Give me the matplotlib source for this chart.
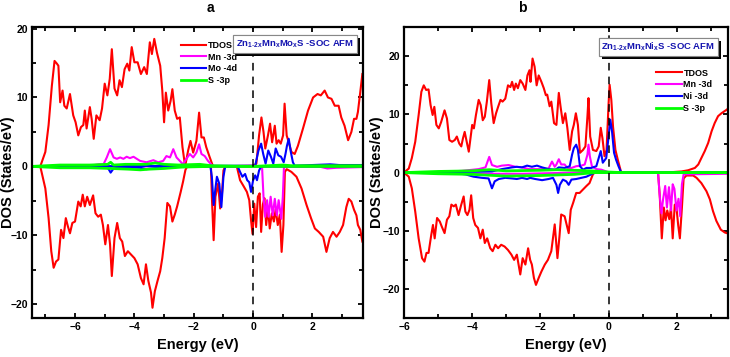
import numpy as np
import matplotlib
matplotlib.use("Agg")
import matplotlib.pyplot as plt
from matplotlib.ticker import MultipleLocator
from matplotlib import patheffects

plt.rcParams["font.family"] = ["Liberation Sans", "DejaVu Sans"]
plt.rcParams["mathtext.fontset"] = "custom"
plt.rcParams["mathtext.rm"] = "Liberation Sans"
plt.rcParams["mathtext.bf"] = "Liberation Sans:bold"

# ---- panel a : Zn(1-2x)MnxMoxS ----
a_tdos_up = [(-7.45, 0), (-7.17, 0), (-7.0, 2.1), (-6.89, 6), (-6.78, 11.7), (-6.69, 15.3), (-6.61, 14.9),
             (-6.56, 14.6), (-6.5, 9.3), (-6.42, 11), (-6.36, 8.8), (-6.28, 8.4), (-6.17, 10.5), (-6.06, 7.4),
             (-5.98, 6.4), (-5.89, 4.5), (-5.8, 5.7), (-5.72, 6), (-5.67, 8.1), (-5.61, 5.5), (-5.5, 8.6),
             (-5.44, 6.9), (-5.37, 4), (-5.28, 7.4), (-5.17, 6.7), (-5.09, 8.4), (-5.0, 12), (-4.91, 10.3),
             (-4.83, 12.7), (-4.76, 17), (-4.67, 11.3), (-4.58, 10.3), (-4.5, 12.5), (-4.42, 11.5),
             (-4.33, 14.1), (-4.24, 14.9), (-4.17, 13.9), (-4.09, 17.3), (-4.0, 15.1), (-3.89, 15.1),
             (-3.78, 13.4), (-3.67, 14.4), (-3.58, 13.4), (-3.48, 18), (-3.41, 16.3), (-3.33, 18.5),
             (-3.24, 16.5), (-3.13, 14.6), (-3.06, 11), (-3.0, 6.4), (-2.94, 10.7), (-2.86, 8.1),
             (-2.78, 9.5), (-2.72, 11.2), (-2.64, 8.1), (-2.56, 6.9), (-2.47, 7.1), (-2.38, 2.8), (-2.29, 0),
             (-2.19, 2.3), (-2.11, 3.7), (-2.02, 2), (-1.91, 3.7), (-1.82, 7.8), (-1.74, 4.2), (-1.66, 4.2),
             (-1.58, 2.8), (-1.46, 1.3), (-1.35, 0), (0.0, 0.1), (0.11, 0.4), (0.2, 4.5), (0.28, 7.1),
             (0.35, 5), (0.41, 2.6), (0.5, 4.5), (0.57, 6.2), (0.64, 3.5), (0.73, 5.9), (0.79, 3.3),
             (0.86, 3.8), (0.93, 3.3), (1.01, 4.5), (1.06, 9.1), (1.13, 4.5), (1.2, 3.5), (1.29, 2.1),
             (1.4, 1.8), (1.51, 3), (1.68, 5.5), (1.85, 8.1), (2.02, 10), (2.17, 10.5), (2.28, 10.3),
             (2.41, 11), (2.52, 10), (2.64, 9.8), (2.75, 8.8), (2.88, 8.8), (2.97, 7.1), (3.08, 5.9),
             (3.2, 3.8), (3.31, 5), (3.4, 6.9), (3.48, 6.9), (3.53, 7.9), (3.61, 10.8), (3.68, 13.4)]
a_tdos_dn = [(-7.45, 0), (-7.17, 0), (-7.0, -3.2), (-6.89, -7.5), (-6.8, -12.3), (-6.72, -14.7), (-6.64, -13.8),
             (-6.56, -13.5), (-6.47, -9.2), (-6.39, -10.4), (-6.31, -7.5), (-6.24, -8.7), (-6.17, -9.7),
             (-6.09, -8.2), (-6.0, -8.0), (-5.89, -5.1), (-5.81, -5.8), (-5.74, -4.1), (-5.67, -5.8),
             (-5.59, -4.4), (-5.5, -5.6), (-5.39, -4.2), (-5.31, -6.8), (-5.22, -7.3), (-5.13, -7.0),
             (-5.06, -8.5), (-4.98, -11.3), (-4.89, -8.5), (-4.82, -11.3), (-4.76, -15.9), (-4.67, -10.4),
             (-4.58, -8.2), (-4.49, -10.4), (-4.41, -10.9), (-4.32, -13.0), (-4.22, -12.3), (-4.11, -12.8),
             (-4.0, -13.3), (-3.89, -14.2), (-3.78, -16.2), (-3.69, -17.1), (-3.61, -14.2), (-3.53, -16.6),
             (-3.44, -18.3), (-3.39, -20.5), (-3.31, -18.1), (-3.22, -16.6), (-3.13, -15.2), (-3.06, -13.3),
             (-2.98, -10.4), (-2.89, -5.3), (-2.8, -5.8), (-2.72, -8.0), (-2.64, -7.0), (-2.56, -5.8),
             (-2.44, -3.7), (-2.36, -2.2), (-2.28, -0.5), (-2.22, 0), (-1.42, 0), (-1.39, -4.4),
             (-1.33, -10.7), (-1.27, -4.4), (-1.18, -2.5), (-1.11, -6.1), (-1.05, -4.0), (-1.0, -0.6),
             (-0.94, 0), (-0.55, 0), (-0.44, -2.0), (-0.33, -2.8), (-0.21, -3.7), (-0.13, -4.9),
             (-0.07, -7.8), (-0.02, -9.8), (0.04, -5.4), (0.1, -8.8), (0.16, -4.4), (0.22, -3.9),
             (0.27, -9.5), (0.33, -5.5), (0.38, -4.6), (0.44, -8.5), (0.5, -6.0), (0.56, -9.0), (0.63, -6.8),
             (0.7, -8.0), (0.76, -6.2), (0.83, -8.5), (0.9, -7.0), (0.96, -12.4), (1.02, -8.5), (1.07, -0.8),
             (1.13, -0.4), (1.29, -0.8), (1.46, -1.5), (1.63, -3.2), (1.8, -5.6), (1.95, -7.5), (2.08, -9.0),
             (2.21, -9.5), (2.36, -10.2), (2.47, -12.4), (2.58, -10.4), (2.69, -9.5), (2.81, -10.2),
             (2.92, -9.5), (3.03, -8.5), (3.14, -5.9), (3.22, -4.7), (3.31, -5.1), (3.4, -6.3), (3.48, -7.1),
             (3.53, -8.5), (3.61, -9.2), (3.68, -10.9)]
a_mn_up = [(-7.45, 0), (-5.5, 0.1), (-5.2, 0.3), (-5.04, 0.3), (-4.93, 1.3), (-4.82, 2.5), (-4.7, 1.3),
           (-4.59, 1.1), (-4.48, 1.3), (-4.37, 1.1), (-4.26, 1.4), (-4.15, 1.2), (-4.03, 1.4), (-3.92, 1.1),
           (-3.81, 0.8), (-3.59, 0.6), (-3.36, 0.9), (-3.2, 0.6), (-3.03, 0.8), (-2.92, 1.5), (-2.8, 1.3),
           (-2.69, 2.5), (-2.58, 1.3), (-2.47, 0.8), (-2.36, 0.3), (-2.25, 1.1), (-2.13, 1.8), (-2.02, 1.3),
           (-1.91, 2.0), (-1.82, 3.2), (-1.74, 1.8), (-1.63, 1.5), (-1.52, 0.8), (-1.35, 0), (2.2, 0),
           (2.5, -0.3), (2.8, -0.2), (3.7, -0.1)]
a_mn_dn = [(-7.45, 0), (0.3, 0), (0.35, -4.4), (0.41, -7.3), (0.47, -4.9), (0.52, -7.3), (0.59, -4.4),
           (0.66, -7.1), (0.73, -4.7), (0.8, -7.1), (0.86, -4.9), (0.95, -7.6), (1.0, -4.4), (1.04, 0), (3.7, 0)]
a_mo_up = [(-7.45, 0), (0.07, 0.1), (0.18, 2.3), (0.27, 3.3), (0.34, 1.8), (0.42, 0.4), (0.51, 2.3),
           (0.6, 1.4), (0.68, 0.4), (0.76, 2.6), (0.85, 1.6), (0.94, 1.4), (1.03, 0.6), (1.09, 1.8),
           (1.14, 3.0), (1.2, 4.0), (1.27, 2.1), (1.34, 0.6), (1.4, 0.1), (2.0, 0.2), (2.6, 0.3), (2.9, 0.2),
           (3.7, 0.2)]
a_mo_dn = [(-7.45, 0), (-5.0, 0), (-4.88, -0.3), (-4.8, -0.9), (-4.7, -0.3), (-4.4, -0.1), (-3.8, -0.2),
           (-3.6, -0.4), (-3.4, -0.3), (-3.2, -0.2), (-3.0, 0), (-1.44, 0), (-1.39, -1.5), (-1.33, -5.6),
           (-1.27, -3.2), (-1.22, -1.5), (-1.14, -2.5), (-1.07, -5.9), (-1.0, -1.5), (-0.94, 0), (-0.52, 0),
           (-0.44, -0.8), (-0.36, -1.5), (-0.27, -1.1), (-0.2, -2.0), (-0.13, -2.3), (-0.07, -3.7),
           (0.0, -2.0), (0.07, -1.3), (0.13, -2.0), (0.2, -0.6), (0.27, 0), (3.7, 0)]
a_s_up = [(-7.45, 0), (-6.5, 0.2), (-5.5, 0.2), (-4.9, 0.3), (-4.8, 0.6), (-4.7, 0.2), (-4.3, 0.3),
          (-3.6, 0.3), (-3.3, 0.5), (-3.0, 0.3), (-2.5, 0.2), (-1.8, 0.3), (-1.4, 0.1), (0, 0), (1.0, 0.2),
          (1.3, 0.1), (3.7, 0.1)]
a_s_dn = [(-7.45, 0), (-6.5, -0.2), (-5.5, -0.2), (-4.8, -0.3), (-4.2, -0.4), (-3.8, -0.5), (-3.5, -0.4),
          (-3.0, -0.3), (-2.4, -0.1), (-1.4, 0), (3.7, 0)]

# ---- panel b : Zn(1-2x)MnxNixS ----
b_tdos_up = [(-6.0, 0), (-5.86, 0.7), (-5.77, 2.5), (-5.67, 5.3), (-5.57, 9.9), (-5.49, 13.9), (-5.42, 15.0),
             (-5.35, 14.2), (-5.28, 14.3), (-5.22, 11.6), (-5.16, 9.9), (-5.11, 11.3), (-5.05, 8.2),
             (-4.98, 7.6), (-4.91, 8.7), (-4.81, 10.7), (-4.74, 9.3), (-4.67, 5.6), (-4.59, 5.3), (-4.51, 5.6),
             (-4.45, 6.2), (-4.38, 5.0), (-4.32, 4.5), (-4.27, 5.9), (-4.22, 7.0), (-4.15, 5.0), (-4.1, 3.6),
             (-4.05, 5.9), (-4.0, 8.2), (-3.95, 7.6), (-3.89, 9.9), (-3.81, 12.5), (-3.75, 11.6), (-3.69, 9.0),
             (-3.63, 9.6), (-3.57, 12.2), (-3.5, 15.9), (-3.44, 11.9), (-3.37, 8.5), (-3.3, 10.2),
             (-3.24, 11.3), (-3.17, 12.5), (-3.11, 12.2), (-3.03, 12.7), (-2.95, 15.0), (-2.88, 14.7),
             (-2.83, 15.6), (-2.77, 14.2), (-2.72, 15.3), (-2.66, 14.5), (-2.59, 15.9), (-2.52, 15.3),
             (-2.44, 14.2), (-2.38, 16.7), (-2.32, 17.6), (-2.29, 15.6), (-2.23, 19.6), (-2.17, 18.2),
             (-2.11, 15.0), (-2.05, 16.7), (-1.97, 15.6), (-1.9, 14.5), (-1.84, 13.3), (-1.8, 13.4),
             (-1.73, 11.4), (-1.68, 12.2), (-1.6, 8.5), (-1.53, 8.2), (-1.46, 13.7), (-1.41, 11.4),
             (-1.34, 8.5), (-1.27, 10.2), (-1.21, 7.7), (-1.14, 3.9), (-1.07, 7.1), (-1.02, 8.2),
             (-0.96, 10.2), (-0.9, 8.2), (-0.84, 3.4), (-0.75, 3.9), (-0.68, 4.5), (-0.62, 9.7),
             (-0.59, 12.8), (-0.54, 6.2), (-0.46, 3.9), (-0.36, 3.7), (-0.29, 4.5), (-0.23, 7.7),
             (-0.18, 5.9), (-0.12, 2.8), (-0.06, 3.9), (0.0, 11.9), (0.03, 15.1), (0.08, 12.5), (0.13, 7.9),
             (0.2, 3.9), (0.27, 2.2), (0.37, 0), (1.9, 0.1), (2.14, 0.2), (2.33, 0.4), (2.53, 0.8),
             (2.63, 1.4), (2.72, 2.5), (2.82, 3.7), (2.92, 5.1), (3.02, 7.1), (3.11, 8.5), (3.21, 9.7),
             (3.31, 10.2), (3.46, 10.8), (3.52, 11.1)]
b_tdos_dn = [(-6.0, 0), (-5.86, -0.7), (-5.77, -2.7), (-5.67, -6.7), (-5.57, -11.3), (-5.47, -14.7),
             (-5.4, -15.3), (-5.34, -13.8), (-5.28, -13.8), (-5.2, -10.7), (-5.15, -9.0), (-5.1, -11.3),
             (-5.03, -7.8), (-4.95, -8.4), (-4.89, -9.3), (-4.81, -10.4), (-4.74, -8.1), (-4.67, -7.5),
             (-4.61, -5.5), (-4.54, -5.8), (-4.48, -5.5), (-4.4, -7.3), (-4.32, -5.5), (-4.25, -4.1),
             (-4.2, -6.7), (-4.14, -7.3), (-4.08, -6.4), (-4.03, -3.9), (-3.97, -7.8), (-3.91, -9.0),
             (-3.83, -9.5), (-3.76, -11.3), (-3.69, -9.8), (-3.63, -12.1), (-3.56, -11.3), (-3.47, -13.0),
             (-3.4, -13.5), (-3.32, -12.4), (-3.24, -13.0), (-3.15, -12.4), (-3.05, -12.7), (-2.95, -13.3),
             (-2.85, -14.1), (-2.77, -15.0), (-2.69, -14.1), (-2.59, -17.5), (-2.52, -14.7), (-2.44, -15.8),
             (-2.36, -13.0), (-2.3, -15.0), (-2.25, -15.8), (-2.19, -18.1), (-2.13, -19.3), (-2.05, -18.1),
             (-1.97, -17.0), (-1.87, -15.8), (-1.78, -15.0), (-1.68, -13.5), (-1.58, -8.9), (-1.5, -14.7),
             (-1.44, -10.9), (-1.39, -7.2), (-1.29, -7.5), (-1.17, -10.4), (-1.11, -6.4), (-1.04, -5.2),
             (-0.95, -3.5), (-0.85, -3.5), (-0.75, -2.9), (-0.65, -2.3), (-0.56, -1.8), (-0.46, -0.3),
             (-0.41, 0), (1.45, 0), (1.5, -4.0), (1.56, -11.3), (1.62, -6.0), (1.67, -8.2), (1.72, -6.5),
             (1.78, -8.0), (1.83, -6.0), (1.88, -11.3), (1.94, -5.5), (1.99, -6.0), (2.04, -9.0),
             (2.09, -11.3), (2.15, -6.0), (2.2, -1.0), (2.28, -0.5), (2.48, -0.5), (2.58, -0.9), (2.72, -1.8),
             (2.87, -3.2), (2.97, -4.6), (3.06, -6.6), (3.16, -8.3), (3.29, -9.8), (3.41, -10.3), (3.52, -10.5)]
b_mn_up = [(-6.0, 0), (-5.0, 0.1), (-4.3, 0.3), (-3.81, 0.6), (-3.61, 0.9), (-3.5, 2.7), (-3.42, 1.3),
           (-3.27, 1.0), (-3.13, 1.2), (-2.93, 1.3), (-2.73, 1.0), (-2.54, 0.9), (-2.34, 0.6), (-2.15, 0.6),
           (-1.95, 0.6), (-1.76, 0.7), (-1.66, 1.9), (-1.58, 1.0), (-1.53, 1.4), (-1.46, 2.3), (-1.39, 1.4),
           (-1.29, 1.4), (-1.21, 0.8), (-1.09, 0.8), (-0.95, 1.1), (-0.8, 1.2), (-0.7, 1.4), (-0.62, 3.1),
           (-0.59, 4.8), (-0.55, 2.8), (-0.49, 1.1), (-0.36, 0.6), (-0.21, 0.5), (-0.07, 0.2), (0.03, 0),
           (3.5, 0)]
b_mn_dn = [(-6.0, 0), (-3.5, -0.2), (-2.5, -0.2), (-1.0, 0), (1.45, 0), (1.5, -4.0), (1.55, -7.0),
           (1.6, -4.5), (1.66, -2.3), (1.71, -6.0), (1.77, -2.5), (1.83, -6.5), (1.88, -2.0), (1.93, -2.8),
           (1.99, -6.5), (2.05, -4.5), (2.1, -7.5), (2.15, -2.0), (2.2, -0.3), (3.5, -0.2)]
b_ni_up = [(-6.0, 0), (-4.5, 0.1), (-3.42, 0.2), (-3.13, 0.6), (-2.83, 0.9), (-2.69, 1.0), (-2.54, 0.9),
           (-2.39, 1.2), (-2.25, 1.0), (-2.1, 1.2), (-1.95, 0.9), (-1.76, 0.6), (-1.56, 0.5), (-1.46, 0.9),
           (-1.29, 0.8), (-1.14, 1.1), (-1.07, 3.1), (-1.02, 4.2), (-0.95, 4.8), (-0.9, 3.9), (-0.84, 1.1),
           (-0.75, 0.5), (-0.65, 0.8), (-0.51, 0.8), (-0.36, 1.1), (-0.29, 2.5), (-0.23, 3.7), (-0.17, 1.7),
           (-0.07, 2.5), (0.0, 6.2), (0.05, 9.1), (0.1, 7.1), (0.16, 3.4), (0.22, 2.2), (0.29, 1.1),
           (0.37, 0), (3.5, 0)]
b_ni_dn = [(-6.0, 0), (-4.5, -0.1), (-4.2, -0.3), (-3.96, -0.7), (-3.71, -0.9), (-3.52, -1.0), (-3.42, -2.7),
           (-3.34, -1.5), (-3.22, -1.1), (-3.03, -0.9), (-2.83, -1.0), (-2.69, -1.1), (-2.54, -0.9),
           (-2.39, -1.1), (-2.3, -0.9), (-2.15, -1.1), (-1.95, -1.3), (-1.76, -1.1), (-1.63, -0.9),
           (-1.53, -2.1), (-1.48, -3.5), (-1.43, -2.1), (-1.34, -1.2), (-1.24, -1.5), (-1.17, -2.1),
           (-1.09, -1.2), (-0.95, -1.1), (-0.8, -0.9), (-0.65, -0.7), (-0.51, -0.3), (-0.41, 0), (3.5, 0)]
b_s_up = [(-6.0, 0), (-5.0, 0.2), (-4.0, 0.3), (-3.5, 0.5), (-3.0, 0.3), (-2.0, 0.4), (-1.5, 0.5),
          (-1.0, 0.4), (-0.5, 0.3), (0.0, 0.1), (0.4, 0), (3.5, 0)]
b_s_dn = [(-6.0, 0), (-5.0, -0.2), (-4.0, -0.3), (-3.0, -0.6), (-2.0, -0.5), (-1.0, -0.3), (-0.4, 0), (3.5, 0)]

colors = ["#ff0000", "#ff00ff", "#0000ff", "#00ff00"]
a_labels = ["TDOS", "Mn -3d", "Mo -4d", "S -3p"]
b_labels = ["TDOS", "Mn -3d", "Ni -3d", "S -3p"]
a_title = r"Zn$_{\mathbf{1\text{-}2x}}$Mn$_{\mathbf{x}}$Mo$_{\mathbf{x}}$S -SOC AFM"
b_title = r"Zn$_{\mathbf{1\text{-}2x}}$Mn$_{\mathbf{x}}$Ni$_{\mathbf{x}}$S -SOC AFM"

fig = plt.figure(figsize=(7.3, 3.57), dpi=100)
ax_a = fig.add_axes([0.0438, 0.109, 0.4534, 0.815])
ax_b = fig.add_axes([0.5534, 0.109, 0.4438, 0.815])


def draw(ax, curves, labels, xlim, ylim, box_text, box_xy, leg_xy, ylab_x):
    handles = []
    for (up, dn), c, lab in zip(curves, colors, labels):
        up = np.array(up).T
        dn = np.array(dn).T
        lw = 2.0 if c == "#00ff00" else 1.5
        h, = ax.plot(up[0], up[1], color=c, lw=lw, label=lab)
        ax.plot(dn[0], dn[1], color=c, lw=lw)
        handles.append(h)
    ax.axvline(0, color="black", ls=(0, (5, 4)), lw=1.1, zorder=5)
    ax.set_xlim(*xlim)
    ax.set_ylim(*ylim)
    ax.xaxis.set_major_locator(MultipleLocator(2))
    ax.xaxis.set_minor_locator(MultipleLocator(1))
    ax.yaxis.set_major_locator(MultipleLocator(10))
    ax.yaxis.set_minor_locator(MultipleLocator(5))
    ax.tick_params(which="both", direction="in", top=True, right=True, width=1.3, labelsize=7.5, pad=3)
    ax.tick_params(which="major", length=3.5)
    ax.tick_params(which="minor", length=3)
    for lab in ax.get_xticklabels() + ax.get_yticklabels():
        lab.set_fontweight("bold")
    for sp in ax.spines.values():
        sp.set_linewidth(1.6)
    ax.set_xlabel("Energy (eV)", fontsize=10.5, fontweight="bold")
    ax.set_ylabel("DOS (States/eV)", fontsize=10.5, fontweight="bold")
    ax.xaxis.set_label_coords(0.5, -0.068)
    ax.yaxis.set_label_coords(ylab_x, 0.5)
    ax.legend(handles=handles, loc="upper left", bbox_to_anchor=leg_xy, frameon=False,
              prop={"size": 6.5, "weight": "bold"}, handlelength=2.8, labelspacing=0.3,
              handletextpad=0.2, borderaxespad=0)
    t = ax.text(box_xy[0], box_xy[1], box_text, transform=ax.transAxes, ha="center", va="center",
                fontsize=6.8, fontweight="bold", color="#1515b0", zorder=10,
                bbox=dict(boxstyle="square,pad=0.3", fc="white", ec="#888888", lw=0.8))
    t.get_bbox_patch().set_path_effects([
        patheffects.withSimplePatchShadow(offset=(2.2, -2.2), shadow_rgbFace="black", alpha=1.0),
        patheffects.Normal()])


draw(ax_a, [(a_tdos_up, a_tdos_dn), (a_mn_up, a_mn_dn), (a_mo_up, a_mo_dn), (a_s_up, a_s_dn)],
     a_labels, (-7.45, 3.7), (-22, 20.2), a_title, (0.795, 0.942), (0.438, 0.965), -0.05)
draw(ax_b, [(b_tdos_up, b_tdos_dn), (b_mn_up, b_mn_dn), (b_ni_up, b_ni_dn), (b_s_up, b_s_dn)],
     b_labels, (-6, 3.5), (-25, 25), b_title, (0.785, 0.933), (0.768, 0.87), -0.062)

fig.text(210 / 730, 1 - 8 / 357, "a", ha="center", va="center", fontsize=10, fontweight="bold")
fig.text(522 / 730, 1 - 8 / 357, "b", ha="center", va="center", fontsize=10, fontweight="bold")

fig.savefig("out.png", dpi=100)
